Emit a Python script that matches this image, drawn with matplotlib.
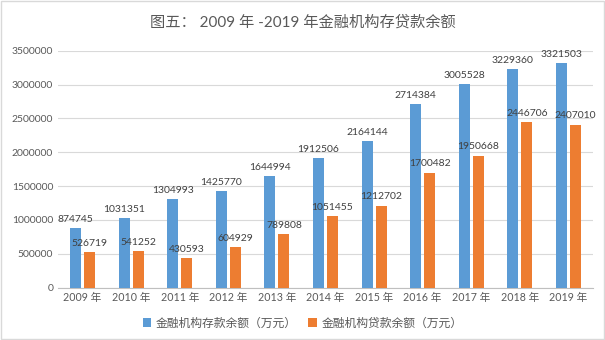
import matplotlib.pyplot as plt
import numpy as np

plt.rcParams['font.family'] = ['Lato', 'Noto Sans CJK SC', 'DejaVu Sans']

#------------------------------------------------
years = ['2009 年', '2010 年', '2011 年', '2012 年', '2013 年', '2014 年',
         '2015 年', '2016 年', '2017 年', '2018 年', '2019 年']
deposits = [874745, 1031351, 1304993, 1425770, 1644994, 1912506,
            2164144, 2714384, 3005528, 3229360, 3321503]
loans = [526719, 541252, 430593, 604929, 789808, 1051455,
         1212702, 1700482, 1950668, 2446706, 2407010]
yticks = [0, 500000, 1000000, 1500000, 2000000, 2500000, 3000000, 3500000]
#------------------------------------------------
txt = '#595959'
fig = plt.figure(figsize=(6.05, 3.4), dpi=100)
ax = fig.add_axes([0.0962, 0.154, 0.8836, 0.697])

x = np.arange(len(years))
w = 0.227
b1 = ax.bar(x - 0.144, deposits, w, color='#5B9BD5', label='金融机构存款余额（万元）', zorder=3)
b2 = ax.bar(x + 0.144, loans, w, color='#ED7D31', label='金融机构贷款余额（万元）', zorder=3)

for i in range(len(x)):
    ax.annotate(str(deposits[i]), (x[i] - 0.144, deposits[i]), xytext=(0, 3),
                textcoords='offset points', ha='center', va='bottom',
                fontsize=7.5, color='#404040', zorder=4)
    ax.annotate(str(loans[i]), (x[i] + 0.144, loans[i]), xytext=(0, 3),
                textcoords='offset points', ha='center', va='bottom',
                fontsize=7.5, color='#404040', zorder=4)

ax.set_xlim(-0.5, len(x) - 0.5)
ax.set_ylim(0, 3500000)
ax.set_yticks(yticks)
ax.set_yticklabels([str(v) for v in yticks])
ax.set_xticks(x)
ax.set_xticklabels(years)
ax.tick_params(axis='both', length=0, colors=txt)
ax.tick_params(axis='y', pad=3.6, labelsize=7.5)
ax.tick_params(axis='x', pad=3, labelsize=7.7)
ax.grid(axis='y', color='#D9D9D9', linewidth=0.8, zorder=0)
for s in ['top', 'right', 'left']:
    ax.spines[s].set_visible(False)
ax.spines['bottom'].set_color('#BFBFBF')

fig.text(0.5, 0.935, '图五： 2009 年 -2019 年金融机构存贷款余额', ha='center', va='center',
         fontsize=11, color=txt)
fig.legend(loc='center', bbox_to_anchor=(0.5, 0.05), ncol=2, frameon=False,
           fontsize=8.5, labelcolor=txt, handlelength=0.7, handleheight=0.7,
           columnspacing=1.0, handletextpad=0.4)

fig.patches.append(plt.Rectangle((0.001, 0.002), 0.997, 0.995, transform=fig.transFigure,
                                 fill=False, edgecolor='#D9D9D9', linewidth=1))
fig.savefig('out.png', dpi=100)
